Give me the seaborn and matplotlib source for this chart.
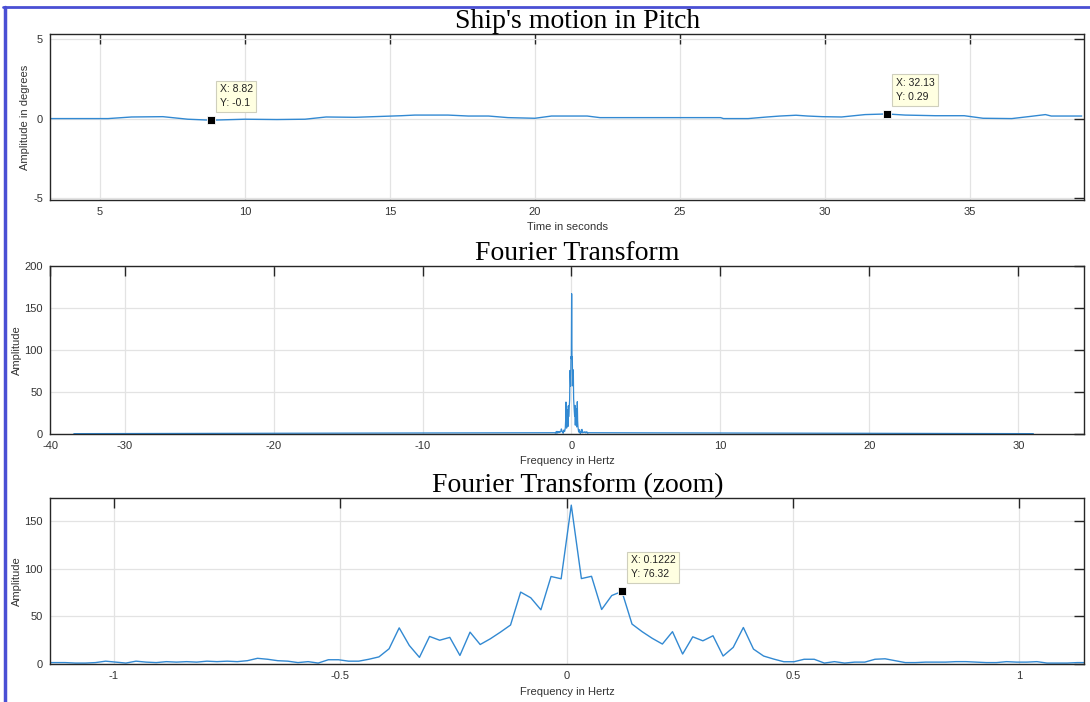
import numpy as np
import pandas as pd
import matplotlib
matplotlib.use("Agg")
import matplotlib.pyplot as plt
import seaborn as sns
from matplotlib.lines import Line2D

# ---------------------------
# data
# ---------------------------
# ship pitch (degrees) vs time (s)
time_s = [3.28, 5.28, 6.09, 7.17, 8.03, 8.82, 10.0, 11.1, 12.07, 12.8, 13.8,
          14.76, 15.4, 15.86, 17.0, 17.7, 18.4, 19.07, 20.0, 20.57, 21.8,
          22.24, 24.9, 26.4, 26.5, 27.35, 28.0, 28.45, 29.0, 29.4, 29.9,
          30.57, 31.38, 32.13, 32.76, 33.8, 34.8, 35.45, 36.44, 37.1, 37.6,
          37.8, 38.85]
pitch_deg = [0.0, 0.0, 0.10, 0.12, -0.04, -0.10, -0.04, -0.06, -0.04, 0.10,
             0.08, 0.14, 0.18, 0.22, 0.22, 0.16, 0.16, 0.06, 0.02, 0.16, 0.16,
             0.06, 0.06, 0.06, 0.0, 0.0, 0.10, 0.16, 0.21, 0.16, 0.12, 0.10,
             0.25, 0.29, 0.22, 0.18, 0.18, 0.02, 0.0, 0.14, 0.25, 0.16, 0.16]

# FFT magnitude, one value per bin (bins -52 .. 51, bin 5 = 0.1222 Hz)
freq_step = 0.02236
first_bin = -52
fft_amp = [1.5, 1.5, 1.5, 1.0, 1.0, 1.5, 3.0, 2.0, 1.0, 3.0, 2.0, 1.5, 2.5,
           2.0, 2.5, 2.0, 3.0, 2.5, 3.0, 2.5, 3.5, 6.0, 5.0, 3.5, 3.0, 1.5,
           2.5, 1.0, 4.5, 4.5, 3.0, 3.0, 5.0, 7.5, 16, 38, 19.5, 7, 29, 25,
           28, 9, 33.5, 20.5, 26.5, 33.5, 41, 75.6, 69.6, 57, 92, 89.6, 167,
           89.8, 92.2, 57.3, 72, 76.32, 42, 34, 27, 21, 34, 10.5, 28.6, 24.4,
           29.7, 8.4, 17.5, 38.4, 15.7, 8.4, 5.2, 2.4, 2.4, 5, 5, 1, 2.5, 1,
           2, 2, 5, 5.5, 3.5, 1.5, 1.5, 2, 2, 2, 2.5, 2.5, 2, 1.5, 1.5, 2.5,
           2, 2, 2.5, 1, 1, 1, 1.5, 1.5]
# far ends of the full spectrum (flat near zero)
edge_freq = [-33.4, 31.0]
edge_amp = [0.4, 0.4]

# data tips
tip_time = [8.82, 32.13]
tip_pitch = [-0.1, 0.29]
tip_freq = [0.1222]
tip_amp = [76.32]

bins = np.arange(first_bin, first_bin + len(fft_amp))
fft_freq = tip_freq[0] + (bins - 5) * freq_step

df_time = pd.DataFrame({"t": time_s, "pitch": pitch_deg})
df_zoom = pd.DataFrame({"f": fft_freq, "amp": fft_amp})
df_full = pd.concat([pd.DataFrame({"f": edge_freq, "amp": edge_amp}), df_zoom]).sort_values("f")

# ---------------------------
# style
# ---------------------------
sns.set_style("white")
plt.rcParams['font.family'] = ['Liberation Sans', 'DejaVu Sans']
plt.rcParams['axes.unicode_minus'] = False

LINE = "#3289d2"
TXT = "#333333"
GRID = "#e3e3e3"

fig = plt.figure(figsize=(10.9, 7.02), dpi=100)
ax1 = fig.add_axes([0.0459, 0.7151, 0.9486, 0.2365])
ax2 = fig.add_axes([0.0459, 0.3818, 0.9486, 0.2393])
ax3 = fig.add_axes([0.0459, 0.0541, 0.9486, 0.2365])


def matlab_axes(ax, title, xlabel, ylabel):
    for s in ax.spines.values():
        s.set_color("#262626")
        s.set_linewidth(1.0)
    ax.tick_params(direction="in", top=True, right=True, length=7, width=1,
                   color="#262626", labelcolor=TXT, labelsize=8, pad=5)
    ax.grid(True, color=GRID, linewidth=0.9)
    ax.set_axisbelow(True)
    ax.set_title(title, fontfamily="Liberation Serif", fontsize=20,
                 color="black", pad=4.5, x=0.51)
    ax.set_xlabel(xlabel, fontsize=8, color=TXT, labelpad=4)
    ax.set_ylabel(ylabel, fontsize=8, color=TXT, labelpad=2)


def data_tip(ax, x, y, text):
    ax.plot([x], [y], marker="s", markersize=6, color="black",
            markeredgecolor="white", markeredgewidth=0.6, zorder=5)
    ax.annotate(text, (x, y), xytext=(9, 12), textcoords="offset pixels",
                ha="left", va="bottom", fontsize=7.5, color="#222222",
                linespacing=1.5,
                bbox=dict(boxstyle="square,pad=0.35", fc="#ffffe1",
                          ec="#cfcfbd", lw=0.8), zorder=6)


# ship motion
sns.lineplot(data=df_time, x="t", y="pitch", ax=ax1, color=LINE, linewidth=1.0)
ax1.set_xlim(3.28, 38.93)
ax1.set_ylim(-5.1, 5.3)
ax1.set_xticks([5, 10, 15, 20, 25, 30, 35])
ax1.set_yticks([-5, 0, 5])
matlab_axes(ax1, "Ship's motion in Pitch", "Time in seconds", "Amplitude in degrees")
data_tip(ax1, tip_time[0], tip_pitch[0], "X: 8.82\nY: -0.1")
data_tip(ax1, tip_time[1], tip_pitch[1], "X: 32.13\nY: 0.29")

# full spectrum
sns.lineplot(data=df_full, x="f", y="amp", ax=ax2, color=LINE, linewidth=0.9)
ax2.set_xlim(-35.0, 34.4)
ax2.set_ylim(0, 200)
ax2.set_xticks([-35, -30, -20, -10, 0, 10, 20, 30])
ax2.set_xticklabels(["-40", "-30", "-20", "-10", "0", "10", "20", "30"])
ax2.set_yticks([0, 50, 100, 150, 200])
matlab_axes(ax2, "Fourier Transform", "Frequency in Hertz", "Amplitude")

# zoom on the peak
sns.lineplot(data=df_zoom, x="f", y="amp", ax=ax3, color=LINE, linewidth=1.0)
ax3.set_xlim(-1.141, 1.143)
ax3.set_ylim(0, 174.5)
ax3.set_xticks([-1, -0.5, 0, 0.5, 1])
ax3.set_xticklabels(["-1", "-0.5", "0", "0.5", "1"])
ax3.set_yticks([0, 50, 100, 150])
matlab_axes(ax3, "Fourier Transform (zoom)", "Frequency in Hertz", "Amplitude")
data_tip(ax3, tip_freq[0], tip_amp[0], "X: 0.1222\nY: 76.32")

# screenshot frame on the left and top
fig.add_artist(Line2D([0.0045, 0.0045], [0.0, 0.99], transform=fig.transFigure,
                      color="#4a4fd4", linewidth=2.5))
fig.add_artist(Line2D([0.003, 1.0], [0.99, 0.99], transform=fig.transFigure,
                      color="#4a4fd4", linewidth=2.0))

fig.savefig("out.png", dpi=100)
